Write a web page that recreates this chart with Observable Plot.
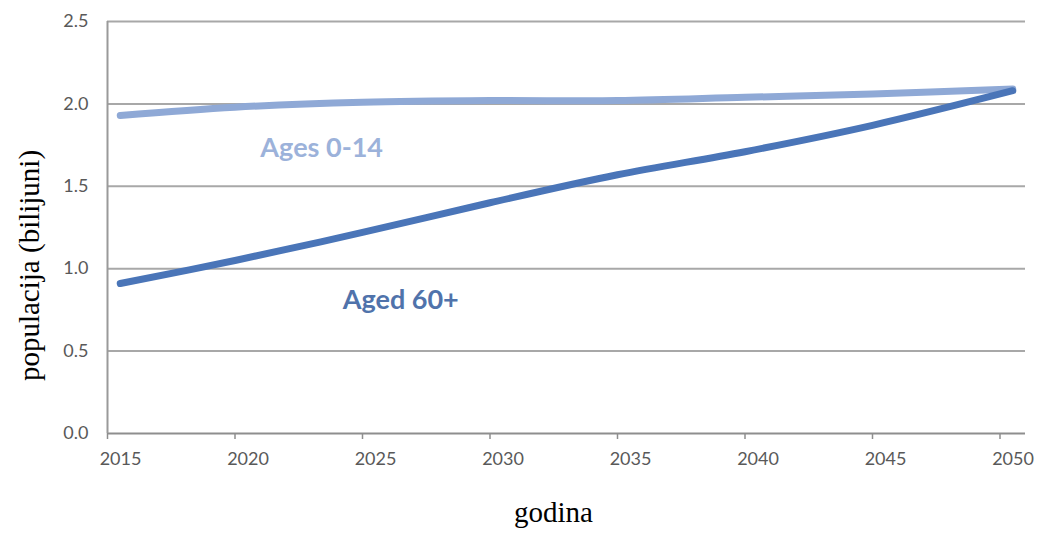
<!DOCTYPE html>
<html><head><meta charset="utf-8">
<script src="https://cdn.jsdelivr.net/npm/d3@7"></script>
<script src="https://cdn.jsdelivr.net/npm/@observablehq/plot@0.6"></script>
<style>
body{margin:0;background:#fff}
#chart svg{display:block}
</style>
</head><body><div id="chart"></div>
<script>
// Data
const years = [2015.5, 2020, 2025, 2030, 2035, 2040, 2045, 2050.5];
const ages0to14 = [1.93, 1.98, 2.01, 2.02, 2.02, 2.04, 2.06, 2.09];
const aged60plus = [0.91, 1.05, 1.22, 1.40, 1.57, 1.71, 1.87, 2.08];
const seriesNames = ["Ages 0-14", "Aged 60+"];
const xTicks = [2015, 2020, 2025, 2030, 2035, 2040, 2045, 2050];
const yTicks = [0, 0.5, 1.0, 1.5, 2.0, 2.5];
const labelYears = [2023.4, 2026.5];
const labelValues = [1.73, 0.81];
const xTitle = "godina";
const yTitle = "populacija (bilijuni)";

const rows = [];
years.forEach((y, i) => {
  rows.push({year: y, value: ages0to14[i], series: seriesNames[0]});
  rows.push({year: y, value: aged60plus[i], series: seriesNames[1]});
});
const labels = seriesNames.map((s, i) => ({series: s, year: labelYears[i], value: labelValues[i]}));
const lineColors = {"Ages 0-14": "#8fa9d6", "Aged 60+": "#4a75b8"};
const textColors = {"Ages 0-14": "#9cb2da", "Aged 60+": "#5073ab"};

const chart = Plot.plot({
  width: 1040,
  height: 533,
  marginLeft: 107,
  marginRight: 15,
  marginTop: 21,
  marginBottom: 100,
  x: {domain: [2015, 2051]},
  y: {domain: [0, 2.5]},
  marks: [
    Plot.ruleY(yTicks.filter(d => d > 0), {stroke: "#a8a8a8", strokeWidth: 2}),
    Plot.ruleY([0], {stroke: "#8e8e8e", strokeWidth: 2}),
    Plot.ruleX([2015], {stroke: "#9a9a9a", strokeWidth: 2}),
    Plot.axisX({ticks: xTicks, tickSize: 6, text: null, stroke: "#8e8e8e", strokeWidth: 1.5, label: null}),
    Plot.axisX({ticks: xTicks, tickFormat: d => String(d), tickSize: 0, tickPadding: 19, dx: 13,
      fontSize: 18, fontFamily: "Lato", fill: "#595959", label: null}),
    Plot.axisY({ticks: yTicks, tickFormat: d3.format(".1f"), tickSize: 0, tickPadding: 19,
      fontSize: 18, fontFamily: "Lato", fill: "#595959", label: null}),
    Plot.line(rows, {x: "year", y: "value", z: "series", stroke: d => lineColors[d.series],
      strokeWidth: 7, curve: "catmull-rom", strokeLinecap: "round"}),
    Plot.text(labels, {x: "year", y: "value", text: "series", fill: d => textColors[d.series],
      fontSize: 27, fontWeight: "bold", fontFamily: "Lato"}),
    Plot.text([yTitle], {frameAnchor: "left", textAnchor: "middle", rotate: -90, dx: -78, dy: 38,
      fontFamily: "Liberation Serif", fontSize: 29, fill: "#000"}),
    Plot.text([xTitle], {frameAnchor: "bottom", textAnchor: "middle", dx: -13, dy: 88,
      fontFamily: "Liberation Serif", fontSize: 29, fill: "#000"})
  ]
});
document.getElementById("chart").appendChild(chart);
</script>
</body></html>
